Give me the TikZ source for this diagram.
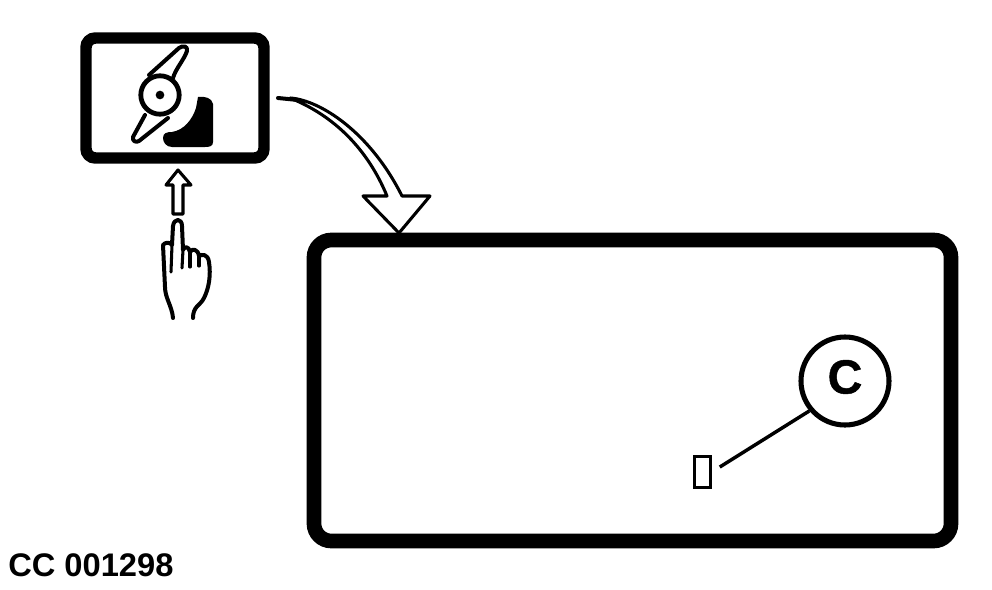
\documentclass[tikz,border=0pt]{standalone}
\usepackage{fontspec}
\setmainfont{Liberation Sans}
\newfontface\heavyface[FakeBold=1]{Liberation Sans Bold}
\begin{document}
\begin{tikzpicture}[
    x=0.75pt,y=-0.75pt,
    screenbox/.style={draw,line width=11pt,rounded corners=13pt,minimum width=477.75pt,minimum height=225.75pt},
    keybox/.style={draw,line width=8.6pt,rounded corners=7pt,minimum width=133.5pt,minimum height=90pt},
    callout/.style={draw,circle,line width=3.8pt,minimum size=66pt,inner sep=0pt,font=\heavyface\fontsize{36}{36}\selectfont},
    lamp/.style={draw,line width=2pt,minimum width=12pt,minimum height=23.25pt,inner sep=0pt},
    caption/.style={font=\fontsize{24.5}{26}\selectfont\bfseries,anchor=base west,inner sep=0pt},
    icon/.style={line width=3pt,line join=round,line cap=round},
    thin/.style={line width=2.3pt,line join=round,line cap=round}
  ]
    \useasboundingbox (0,0) rectangle (992,589);

    \node[keybox] (key) at (175,98) {};
    \node[screenbox] (screen) at (632.5,390.5) {};
    \node[callout] (C) at (845,381) {\raisebox{3pt}[\height][\depth]{C}};
    \node[lamp] (lamp) at (702.5,472) {};
    \node[caption] (code) at (8,576) {CC 001298};

    % leader
    \draw[line width=2.6pt,shorten <=7pt] (lamp.east) -- (C.220);

    % symbol on the key
    \node[draw,circle,line width=3.6pt,minimum size=28.8pt,inner sep=0pt] (hub) at (160,95) {};
    \node[fill,circle,minimum size=6.5pt,inner sep=0pt] (pin) at (hub) {};
    \draw[icon] (149,75) -- (179,48) .. controls (183,45) and (188,46) .. (187,51) .. controls (184,60) and (176,68) .. (173,78);
    \draw[icon] (145,115) -- (133,137) .. controls (132,141) and (136,143) .. (139,141) -- (168,118);
    \fill (198,97) .. controls (205,96) and (212,98) .. (213,104) -- (213,142)
      .. controls (213,146) and (210,147) .. (205,147) -- (172,147)
      .. controls (166,147) and (163,142) .. (163,138)
      .. controls (163,133) and (167,132) .. (172,132)
      .. controls (184,130) and (192,120) .. (196,108) -- cycle;

    % push arrow and hand
    \draw[thin] (178,170) -- (191,185) -- (183,185) -- (183,214) -- (173,214) -- (173,185) -- (166,185) -- cycle;
    \draw[icon] (173,318) .. controls (172,306) and (165,298) .. (165,287) -- (163,245)
      .. controls (165,242) and (170,242) .. (172,245) -- (173,226)
      .. controls (174,218) and (182,218) .. (182,226)
      -- (183,250) .. controls (184,246) and (189,246) .. (190,252)
      .. controls (192,248) and (198,249) .. (199,256)
      .. controls (202,254) and (208,254) .. (209,262)
      .. controls (211,275) and (209,288) .. (204,298)
      .. controls (200,306) and (193,306) .. (193,318);
    \draw[thin] (172,245) -- (171,272);
    \draw[thin] (183,250) -- (182,268);
    \draw[thin] (190,252) -- (190,267);
    \draw[thin] (199,256) -- (199,266);

    % curved arrow from key to screen
    \draw[thin,fill=white] (290,98) .. controls (320,100) and (370,132) .. (402,196)
      -- (430,196) -- (399,233) -- (363,196) -- (387,196)
      .. controls (368,150) and (335,116) .. (290,98) -- cycle;
    \draw[icon] (278,98) -- (298,100);
\end{tikzpicture}
\end{document}
